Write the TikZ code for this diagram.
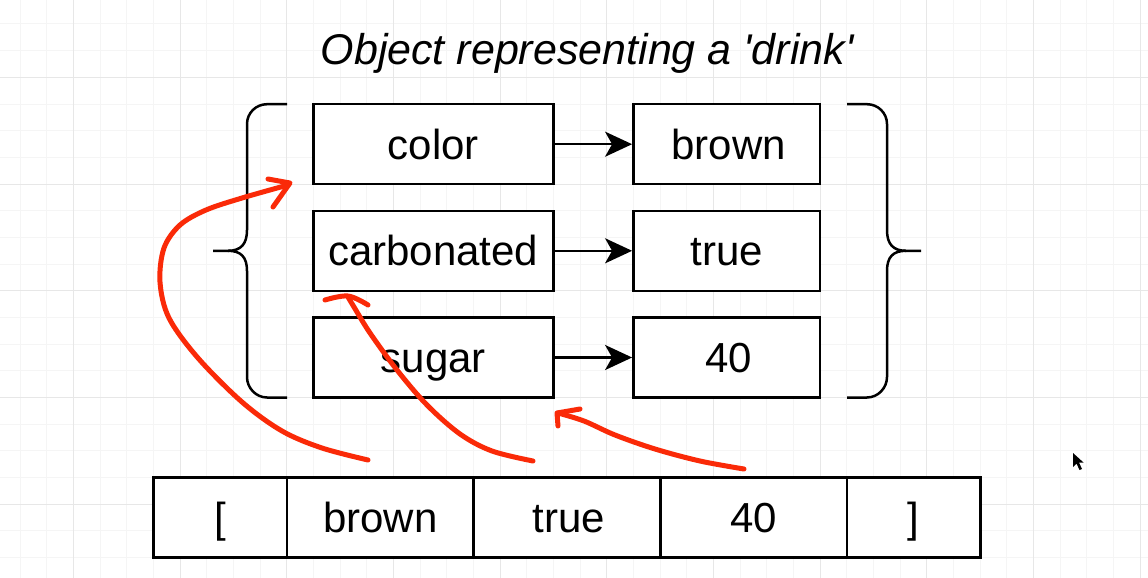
\documentclass[tikz,border=0pt]{standalone}
\usepackage{fontspec}
\setmainfont{Liberation Sans}
\usetikzlibrary{arrows.meta}
\definecolor{pen}{RGB}{250,42,8}
\definecolor{gridminor}{RGB}{245,245,245}
\definecolor{gridmajor}{RGB}{231,231,231}
\begin{document}
\begin{tikzpicture}[x=1pt,y=-1pt,
  box/.style={draw=black,line width=2.5pt,fill=white,inner sep=0pt,minimum height=80pt,
    text height=30pt,text depth=0pt,font=\fontsize{42}{50}\selectfont},
  keybox/.style={box,minimum width=240pt},
  valbox/.style={box,minimum width=186.7pt},
  edgecell/.style={box,minimum width=133.5pt},
  link/.style={line width=2.5pt,-{Stealth[length=27pt,width=25pt,inset=7pt]}},
  bracestroke/.style={line width=2.5pt,line join=round},
  pen/.style={draw=pen,line width=5pt,line cap=round,line join=round},
  gminor/.style={draw=gridminor,line width=1pt},
  gmajor/.style={draw=gridmajor,line width=1pt}]
\useasboundingbox (0,0) rectangle (1148,578);
\fill[white] (0,0) rectangle (1148,578);
% grid
\foreach \k in {0,...,42} {\draw[gminor] ({20+26.6667*\k},0) -- ({20+26.6667*\k},578);}
\foreach \k in {0,...,20} {\draw[gminor] (0,{24+26.6667*\k}) -- (1148,{24+26.6667*\k});}
\foreach \m in {0,...,10} {\draw[gmajor] ({73.333+106.667*\m},0) -- ({73.333+106.667*\m},578);}
\foreach \m in {0,...,4} {\draw[gmajor] (0,{77.333+106.667*\m}) -- (1148,{77.333+106.667*\m});}

% title
\node[anchor=base,inner sep=0pt,font=\fontsize{43}{50}\selectfont\itshape] (title) at (587,65) {Object representing a \textquotesingle drink\textquotesingle};

% key/value boxes
\node[keybox] (k1) at (433.3,144.2) {color};
\node[keybox] (k2) at (433.3,250.8) {carbonated};
\node[keybox] (k3) at (433.3,357.5) {sugar};
\node[valbox] (v1) at (726.7,144.2) {\hspace*{4pt}brown};
\node[valbox] (v2) at (726.7,250.8) {true};
\node[valbox] (v3) at (726.7,357.5) {\hspace*{4pt}40};
\draw[link] (k1) -- (v1);
\draw[link] (k2) -- (v2);
\draw[link] (k3) -- (v3);

% braces
\draw[bracestroke] (287,104.2) -- (267,104.2) .. controls (256,104.2) and (247,113) .. (247,124)
  -- (247,230) .. controls (247,244) and (241,250.8) .. (228,250.8) -- (213,250.8);
\draw[bracestroke] (228,250.8) .. controls (241,250.8) and (247,257) .. (247,271)
  -- (247,377) .. controls (247,388) and (256,397.5) .. (267,397.5) -- (287,397.5);
\draw[bracestroke] (847,104.2) -- (867,104.2) .. controls (878,104.2) and (887,113) .. (887,124)
  -- (887,230) .. controls (887,244) and (893,250.8) .. (906,250.8) -- (921,250.8);
\draw[bracestroke] (906,250.8) .. controls (893,250.8) and (887,257) .. (887,271)
  -- (887,377) .. controls (887,388) and (878,397.5) .. (867,397.5) -- (847,397.5);

% array
\node[edgecell] (a1) at (220.2,517.3) {[};
\node[valbox] (a2) at (380.3,517.3) {brown};
\node[valbox] (a3) at (567,517.3) {\hspace*{4pt}true};
\node[valbox] (a4) at (753.7,517.3) {40};
\node[edgecell] (a5) at (913.5,517.3) {]};

% red annotations
\draw[pen] plot[smooth,tension=0.55] coordinates {(368,460) (322,448) (282,431) (242,402) (198,358) (169,318) (160,282) (164,248) (180,225) (206,210) (242,198) (288,185)};
\draw[pen] (268,179) -- (290,183) -- (273,207);
\draw[pen] plot[smooth,tension=0.55] coordinates {(533,461) (492,451) (460,434) (427,405) (397,370) (370,333) (354,307) (348,297)};
\draw[pen] plot[smooth,tension=0.6] coordinates {(325,300) (348,296) (368,305)};
\draw[pen] plot[smooth,tension=0.55] coordinates {(744,469) (700,461) (655,449) (615,435) (584,421) (558,413)};
\draw[pen] (580,409) -- (557,413) -- (558,426);

% mouse pointer
\fill[black] (1073,453) -- (1073,467) -- (1076.5,463.5) -- (1079.5,470) -- (1082,469) -- (1079,462.5) -- (1083.5,462.5) -- cycle;
\end{tikzpicture}
\end{document}
